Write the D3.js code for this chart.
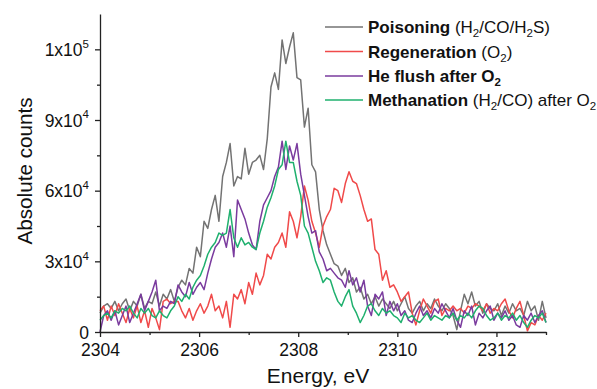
<!DOCTYPE html>
<html>
<head>
<meta charset="utf-8">
<script src="https://cdn.jsdelivr.net/npm/d3@7/dist/d3.min.js"></script>
<style>
  html, body { margin: 0; padding: 0; background: #fff; }
  svg { display: block; font-family: Arial, "Liberation Sans", sans-serif; }
</style>
</head>
<body>
<svg id="chart" width="597" height="389"></svg>
<script>
// Energy grid (eV), 0.075 eV steps from 2304 to 2313
const energy = d3.range(121).map(i => +(2304 + i * 0.075).toFixed(3));

// Absolute counts in thousands (x10^3)
const poisoning = [8,11,12,10,13,9,12,14,9,13,11,16,10,13,
  12,17,11,16,14,18,13,
  19,22,20,27,25,36,32,47,44,52, 58,47,66,72,80,62,66,65,78,67,
  72,73,75,69,82,104,110,103,124,114, 121,127,108,107,87,95,71,68,52,43,
  37,33,29,28,24,27,21,23,17,19, 14,16,12,15,11,14,12,10,13,9,
  12,15,10,8,11,13,9,12,10,14, 11,9,12,10,7,1,9,16,12,17,
  11,13,8,12,10,9,12,7,11,8, 12,9,10,7,13,9,11,5,13,6];

const regeneration = [9,11,5,11,7,12,8,4,10,6,11,4,9,2,10,6,1,13,14,12,13,
  13,9,6,10,5,9,12,8,11,16,9,11,6,13,2,16,14,18,12,21,
  16,25,20,24,33,31,36,38,42,36,51,47,40,49,62,56,47,42,36,45,
  49,52,61,60,55,63,68,64,63,58,52,47,48,35,33,22,26,19,20,17,
  13,15,17,8,3,9,14,11,8,13,14,7,10,9,11,9,10,8,11,10,
  12,11,9,12,8,10,9,12,14,9,6,10,13,7,0.5,4,3,7,5,8];

const heFlush = [0,7,9,5,9,3,7,11,4,8,12,16,9,13,17,22,9,11,10,13,12,
  20,17,15,21,16,19,21,18,25,31,36,38,42,36,45,32,56,52,48,42,
  37,35,47,54,57,60,66,70,81,69,79,73,80,67,58,49,42,43,34,31,
  26,27,25,23,22,19,26,20,23,17,22,11,7,16,14,17,7,13,9,12,
  7,9,5,4,8,11,7,9,6,10,8,12,9,6,10,5,2,9,7,11,
  3,8,6,9,11,5,8,6,9,5,7,3,2,7,5,8,4,7,9,4];

const methanation = [5,7,8,6,9,8,10,9,11,8,6,10,8,10,7,6,9,7,6,9,11,
  15,13,16,14,19,22,24,28,33,36,38,42,41,42,52,40,36,40,37,38,
  36,35,42,47,53,57,62,69,71,81,72,72,64,58,45,42,36,30,26,21,
  23,22,17,13,11,15,18,11,8,4,7,11,12,9,7,10,8,9,7,6,
  4,8,6,7,5,4,6,8,5,7,6,5,7,6,8,5,7,6,8,6,
  9,11,10,7,5,6,8,5,7,6,8,5,7,4,2,5,7,6,8,4];

const seriesNames = ["Poisoning", "Regeneration", "He flush", "Methanation"];
const seriesValues = [poisoning, regeneration, heFlush, methanation];
const seriesColors = ["#737373", "#f04a4a", "#7a3b9e", "#1fb06e"];

// Axis ticks
const xTicks = [2304, 2306, 2308, 2310, 2312];
const xMinorTicks = [2305, 2307, 2309, 2311, 2313];
const yTicks = [0, 30, 60, 90, 120];
const yTickBase = ["0", "3x10", "6x10", "9x10", "1x10"];
const yTickExp = ["", "4", "4", "4", "5"];
const yMinorTicks = [15, 45, 75, 105];

// Legend labels (segments: bold / subscript)
const legendLabels = [
  [{t:"Poisoning", b:1}, {t:" (H"}, {t:"2", s:1}, {t:"/CO/H"}, {t:"2", s:1}, {t:"S)"}],
  [{t:"Regeneration", b:1}, {t:" (O"}, {t:"2", s:1}, {t:")"}],
  [{t:"He flush after O", b:1}, {t:"2", b:1, s:1}],
  [{t:"Methanation", b:1}, {t:" (H"}, {t:"2", s:1}, {t:"/CO) after O"}, {t:"2", s:1}]
];

const svg = d3.select("#chart");
const x = d3.scaleLinear().domain([2304, 2313]).range([100, 546]);
const y = d3.scaleLinear().domain([0, 135]).range([332, 14]);

// Lines
const line = d3.line().x((d, i) => x(energy[i])).y(d => y(d));
seriesValues.forEach((vals, k) => {
  svg.append("path")
    .datum(vals)
    .attr("fill", "none")
    .attr("stroke", seriesColors[k])
    .attr("stroke-width", 1.5)
    .attr("stroke-linejoin", "round")
    .attr("d", line);
});

// X axis
const axisColor = "#222";
const gx = svg.append("g").attr("transform", "translate(0,332)");
gx.call(d3.axisBottom(x).tickValues(xTicks).tickSize(5).tickPadding(7).tickSizeOuter(0)
  .tickFormat(d3.format("d")));
gx.append("g").call(d3.axisBottom(x).tickValues(xMinorTicks).tickSize(3).tickFormat(() => "").tickSizeOuter(0))
  .select(".domain").remove();

// Y axis
const gy = svg.append("g").attr("transform", "translate(100,0)");
gy.call(d3.axisLeft(y).tickValues(yTicks).tickSize(5).tickPadding(6).tickSizeOuter(0)
  .tickFormat(() => ""));
gy.append("g").call(d3.axisLeft(y).tickValues(yMinorTicks).tickSize(3).tickFormat(() => "").tickSizeOuter(0))
  .select(".domain").remove();
gy.selectAll(".tick text").each(function(d, i) {
  const t = d3.select(this);
  const idx = yTicks.indexOf(d);
  if (idx < 0) return;
  t.attr("dy", "0.36em");
  t.append("tspan").text(yTickBase[idx]);
  if (yTickExp[idx]) {
    t.append("tspan").attr("font-size", 11.5).attr("dy", "-0.75em").text(yTickExp[idx]);
  }
});

svg.selectAll(".domain, .tick line").attr("stroke", axisColor).attr("stroke-width", 1.3);
svg.selectAll(".tick text").attr("font-size", 17.5).attr("fill", "#111")
  .attr("font-family", 'Arial, "Liberation Sans", sans-serif');

// Axis titles
svg.append("text")
  .attr("x", x(2308.4)).attr("y", 383)
  .attr("text-anchor", "middle").attr("font-size", 21).attr("fill", "#111")
  .text("Energy, eV");
svg.append("text")
  .attr("transform", "translate(32,171) rotate(-90)")
  .attr("text-anchor", "middle").attr("font-size", 20.7).attr("fill", "#111")
  .text("Absolute counts");

// Legend
const legendRowY = [27, 51.5, 76, 100];
legendLabels.forEach((segs, k) => {
  const g = svg.append("g").attr("transform", `translate(325,${legendRowY[k]})`);
  g.append("line").attr("x1", 0).attr("x2", 38).attr("y1", 0).attr("y2", 0)
    .attr("stroke", seriesColors[k]).attr("stroke-width", 1.5);
  const t = g.append("text").attr("x", 43).attr("y", 0).attr("dy", "0.36em")
    .attr("font-size", 17).attr("fill", "#111");
  let shifted = false;
  segs.forEach(s => {
    const ts = t.append("tspan").text(s.t);
    if (s.b) ts.attr("font-weight", "bold");
    if (s.s) { ts.attr("font-size", 11.5).attr("dy", 4); shifted = true; }
    else if (shifted) { ts.attr("dy", -4); shifted = false; }
  });
});
</script>
</body>
</html>
